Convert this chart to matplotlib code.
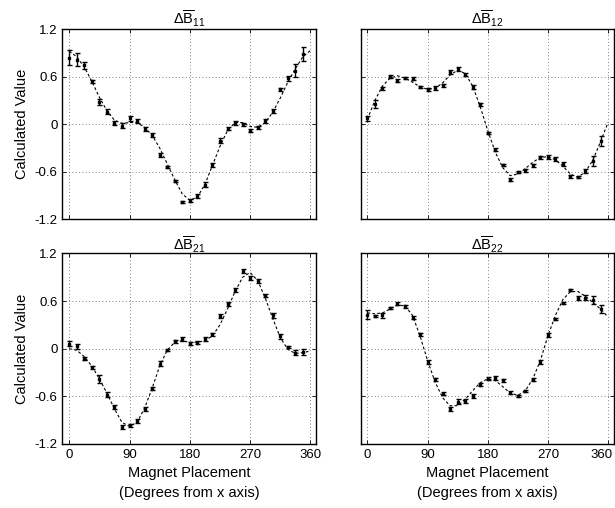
import numpy as np
import matplotlib
matplotlib.use("Agg")
import matplotlib.pyplot as plt
from matplotlib.transforms import ScaledTranslation

plt.rcParams['font.family'] = ['Liberation Sans', 'DejaVu Sans']
plt.rcParams['mathtext.fontset'] = 'custom'
plt.rcParams['mathtext.rm'] = 'Liberation Sans'
plt.rcParams['mathtext.it'] = 'Liberation Sans'

# measurement angles (degrees) and fitted-curve angles
angles = np.arange(32) * 11.25
fit_angles = np.arange(33) * 11.25

# dB11
b11 = [0.84, 0.815, 0.74, 0.54, 0.28, 0.156, 0.02, -0.02, 0.076, 0.042, -0.063, -0.14,
       -0.39, -0.54, -0.72, -0.98, -0.963, -0.91, -0.765, -0.515, -0.21, -0.055, 0.02, 0.0,
       -0.085, -0.04, 0.04, 0.16, 0.44, 0.58, 0.676, 0.887]
b11_err = [0.1, 0.08, 0.04, 0.02, 0.035, 0.03, 0.025, 0.03, 0.03, 0.025, 0.025, 0.025,
           0.025, 0.01, 0.01, 0.01, 0.025, 0.025, 0.03, 0.025, 0.03, 0.025, 0.025, 0.02,
           0.02, 0.02, 0.02, 0.025, 0.02, 0.03, 0.08, 0.09]
b11_fit = [0.92, 0.85, 0.72, 0.54, 0.34, 0.17, 0.05, 0.01, 0.02, 0.02, -0.04, -0.14,
           -0.3, -0.5, -0.7, -0.88, -0.96, -0.92, -0.76, -0.52, -0.28, -0.08, 0.02, 0.02,
           -0.03, -0.04, 0.02, 0.15, 0.33, 0.53, 0.7, 0.85, 0.93]

# dB12
b12 = [0.076, 0.25, 0.45, 0.6, 0.55, 0.583, 0.575, 0.465, 0.44, 0.456, 0.49, 0.66,
       0.69, 0.625, 0.47, 0.25, -0.114, -0.32, -0.515, -0.70, -0.6, -0.583, -0.52, -0.42,
       -0.414, -0.44, -0.50, -0.655, -0.663, -0.59, -0.465, -0.21]
b12_err = [0.03, 0.05, 0.02, 0.015, 0.02, 0.015, 0.02, 0.015, 0.02, 0.02, 0.02, 0.025,
           0.025, 0.02, 0.025, 0.02, 0.015, 0.015, 0.01, 0.015, 0.01, 0.015, 0.02, 0.02,
           0.02, 0.02, 0.025, 0.02, 0.015, 0.02, 0.06, 0.06]
b12_fit = [0.06, 0.3, 0.48, 0.58, 0.61, 0.58, 0.53, 0.47, 0.44, 0.45, 0.52, 0.62,
           0.68, 0.64, 0.48, 0.22, -0.08, -0.35, -0.55, -0.65, -0.63, -0.56, -0.48, -0.42,
           -0.41, -0.45, -0.53, -0.63, -0.67, -0.6, -0.45, -0.22, 0.02]

# dB21
b21 = [0.063, 0.03, -0.126, -0.235, -0.386, -0.58, -0.735, -0.987, -0.966, -0.91, -0.756, -0.504,
       -0.19, -0.02, 0.092, 0.126, 0.063, 0.076, 0.126, 0.18, 0.41, 0.567, 0.743, 0.974,
       0.89, 0.85, 0.67, 0.42, 0.155, 0.017, -0.05, -0.042]
b21_err = [0.03, 0.03, 0.02, 0.02, 0.05, 0.03, 0.03, 0.03, 0.02, 0.025, 0.025, 0.02,
           0.03, 0.01, 0.015, 0.025, 0.02, 0.02, 0.025, 0.02, 0.025, 0.025, 0.025, 0.025,
           0.03, 0.025, 0.025, 0.03, 0.03, 0.015, 0.03, 0.04]
b21_fit = [0.0, -0.02, -0.1, -0.22, -0.38, -0.56, -0.76, -0.93, -0.98, -0.93, -0.75, -0.5,
           -0.22, -0.02, 0.08, 0.1, 0.08, 0.08, 0.1, 0.16, 0.3, 0.5, 0.72, 0.9,
           0.96, 0.86, 0.64, 0.38, 0.14, -0.01, -0.06, -0.05, -0.03]

# dB22
b22 = [0.43, 0.41, 0.42, 0.51, 0.567, 0.533, 0.39, 0.18, -0.168, -0.386, -0.567, -0.756,
       -0.67, -0.66, -0.596, -0.454, -0.378, -0.37, -0.40, -0.554, -0.596, -0.538, -0.39, -0.168,
       0.176, 0.37, 0.575, 0.743, 0.643, 0.643, 0.617, 0.504]
b22_err = [0.06, 0.015, 0.03, 0.015, 0.015, 0.015, 0.02, 0.015, 0.02, 0.02, 0.015, 0.025,
           0.03, 0.025, 0.025, 0.02, 0.02, 0.02, 0.015, 0.015, 0.01, 0.015, 0.02, 0.02,
           0.025, 0.015, 0.015, 0.015, 0.025, 0.03, 0.05, 0.05]
b22_fit = [0.45, 0.44, 0.45, 0.5, 0.55, 0.54, 0.42, 0.16, -0.15, -0.42, -0.62, -0.72,
           -0.72, -0.64, -0.53, -0.43, -0.38, -0.4, -0.48, -0.56, -0.59, -0.53, -0.38, -0.15,
           0.16, 0.42, 0.62, 0.72, 0.72, 0.66, 0.58, 0.5, 0.4]

titles = [r'$\Delta\overline{\mathrm{B}}_{11}$', r'$\Delta\overline{\mathrm{B}}_{12}$',
          r'$\Delta\overline{\mathrm{B}}_{21}$', r'$\Delta\overline{\mathrm{B}}_{22}$']
yticks = [-1.2, -0.6, 0, 0.6, 1.2]
ytick_labels = ['-1.2', '-0.6', '0', '0.6', '1.2']
xticks = [0, 90, 180, 270, 360]

panels = [(b11, b11_err, b11_fit), (b12, b12_err, b12_fit),
          (b21, b21_err, b21_fit), (b22, b22_err, b22_fit)]

fig = plt.figure(figsize=(6.15, 5.08), dpi=100)
positions = [[0.1016, 0.5683, 0.413, 0.3746], [0.5865, 0.5683, 0.412, 0.3746],
             [0.1016, 0.1264, 0.413, 0.3746], [0.5865, 0.1264, 0.412, 0.3746]]

for i, (vals, errs, fit) in enumerate(panels):
    ax = fig.add_axes(positions[i])
    ax.plot(fit_angles, fit, color='black', lw=0.8, linestyle=(0, (2.5, 2)))
    ax.errorbar(angles, vals, yerr=errs, fmt='none', ecolor='black', elinewidth=1.0,
                capsize=1.8, capthick=1.0)
    ax.plot(angles, vals, 's', color='black', ms=1.5)
    ax.set_xlim(-10, 369)
    ax.set_ylim(-1.2, 1.2)
    ax.set_xticks(xticks)
    ax.set_yticks(yticks)
    ax.grid(True, color='#555555', linestyle=(0, (1, 3)), lw=0.6)
    ax.tick_params(direction='in', length=3, top=True, right=True, labelsize=9.5, width=0.6)
    for s in ax.spines.values():
        s.set_linewidth(1.0)
    ax.set_title(titles[i], fontsize=10.5, pad=2)
    if i % 2 == 0:
        ax.set_yticklabels(ytick_labels)
        ax.set_ylabel('Calculated Value', fontsize=10.5, labelpad=4)
    else:
        ax.set_yticklabels([])
    if i >= 2:
        ax.set_xticklabels([str(t) for t in xticks])
        ax.set_xlabel('Magnet Placement\n(Degrees from x axis)', fontsize=10.5, linespacing=1.5)
        if i == 3:
            last = ax.get_xticklabels()[-1]
            last.set_transform(last.get_transform() + ScaledTranslation(-7 / 100, 0, fig.dpi_scale_trans))
    else:
        ax.set_xticklabels([])

fig.savefig('out.png', dpi=100)
